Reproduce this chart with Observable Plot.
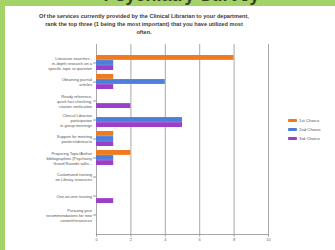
<!DOCTYPE html>
<html>
<head>
<meta charset="utf-8">
<script src="https://cdn.jsdelivr.net/npm/d3@7"></script>
<script src="https://cdn.jsdelivr.net/npm/@observablehq/plot@0.6"></script>
<style>
  body { margin: 0; background: #fff; }
  #wrap { position: relative; width: 335px; height: 250px; background: #fff; overflow: hidden; font-family: Arial, "Liberation Sans", sans-serif; }
  #topband { position: absolute; left: 0; top: 0; width: 335px; height: 6px; background: #a3d266; overflow: hidden; }
  #bigtitle { position: absolute; left: 0; width: 363px; top: -14px; font-size: 18px; line-height: 18px; font-weight: bold; color: #34401f; text-align: center; white-space: nowrap; }
  #leftband { position: absolute; left: 0; top: 0; width: 5px; height: 250px; background: #a3d266; }
  #sub { position: absolute; left: 22px; width: 244px; top: 12px; text-align: center; font-size: 5.6px; font-weight: bold; line-height: 8px; color: #3a3a3a; }
  #chart svg { position: absolute; left: 0; top: 0; }
  #legend { position: absolute; left: 288px; top: 116px; font-size: 4.3px; color: #555; }
  .item { display: flex; align-items: center; height: 9px; }
  .sw { width: 9px; height: 3px; border-radius: 1px; margin-right: 2px; }
</style>
</head>
<body>
<div id="wrap">
  <div id="topband"><div id="bigtitle">Psychiatry Survey</div></div>
  <div id="leftband"></div>
  <div id="sub">Of the services currently provided by the Clinical Librarian to your department,<br>rank the top three (1 being the most important) that you have utilized most<br>often.</div>
  <div id="chart"></div>
  <div id="legend"></div>
</div>
<script>
const categories = [
  "Literature searches -\nin-depth research on a\nspecific topic or question",
  "Obtaining journal\narticles",
  "Ready reference,\nquick fact checking,\ncitation verification",
  "Clinical Librarian\nparticipation\nin group meetings",
  "Support for meeting\nposters/abstracts",
  "Preparing Topic/Author\nbibliographies (Psychiatry\nGrand Rounds talks...",
  "Customized training\non Library resources",
  "One-on-one training",
  "Pursuing your\nrecommendations for new\ncontent/resources"
];
const seriesNames = ["1st Choice", "2nd Choice", "3rd Choice"];
const firstChoice  = [8, 1, 0, 0, 1, 2, 0, 0, 0];
const secondChoice = [1, 4, 0, 5, 1, 1, 0, 0, 0];
const thirdChoice  = [1, 1, 2, 5, 1, 1, 0, 1, 0];
const seriesColors = ["#ef7b21", "#4d7fda", "#9a3fca"];
const xTicks = [0, 2, 4, 6, 8, 10];

const seriesValues = [firstChoice, secondChoice, thirdChoice];

const W = 335, H = 250, mTop = 44, mBottom = 16, mLeft = 96, mRight = 67;
const padInner = 0.2, padOuter = 0.6;
const step = (H - mTop - mBottom) / (categories.length - padInner + 2 * padOuter);
const bw = step * (1 - padInner);
const part = bw / seriesNames.length;

const barMarks = seriesNames.map((s, k) =>
  Plot.barX(categories.map((c, i) => ({cat: c, value: seriesValues[k][i]})), {
    x: "value", y: "cat", fill: seriesColors[k],
    insetTop: k * part, insetBottom: (seriesNames.length - 1 - k) * part
  })
);

const chart = Plot.plot({
  width: W, height: H,
  marginTop: mTop, marginBottom: mBottom, marginLeft: mLeft, marginRight: mRight,
  style: {background: "transparent", fontFamily: "Arial, 'Liberation Sans', sans-serif"},
  x: {domain: [0, 10], label: null},
  y: {domain: categories, paddingInner: padInner, paddingOuter: padOuter, label: null},
  marks: [
    Plot.gridX(xTicks, {stroke: "#a8a8a8", strokeOpacity: 1, strokeWidth: 1}),
    Plot.frame({anchor: "bottom", stroke: "#a8a8a8", strokeWidth: 1}),
    ...barMarks,
    Plot.axisX(xTicks, {tickSize: 2.5, tickPadding: 1.5, fontSize: 4, stroke: "#999", fill: "#666", label: null}),
    Plot.axisY({tickSize: 3, text: null, stroke: "#999"}),
    Plot.axisY({tickSize: 0, tickPadding: 4.5, fontSize: 4, lineHeight: 1.25, fill: "#555", label: null})
  ]
});
document.getElementById("chart").appendChild(chart);

const legend = document.getElementById("legend");
seriesNames.forEach((s, k) => {
  const it = document.createElement("div");
  it.className = "item";
  it.innerHTML = `<span class="sw" style="background:${seriesColors[k]}"></span><span>${s}</span>`;
  legend.appendChild(it);
});
</script>
</body>
</html>
